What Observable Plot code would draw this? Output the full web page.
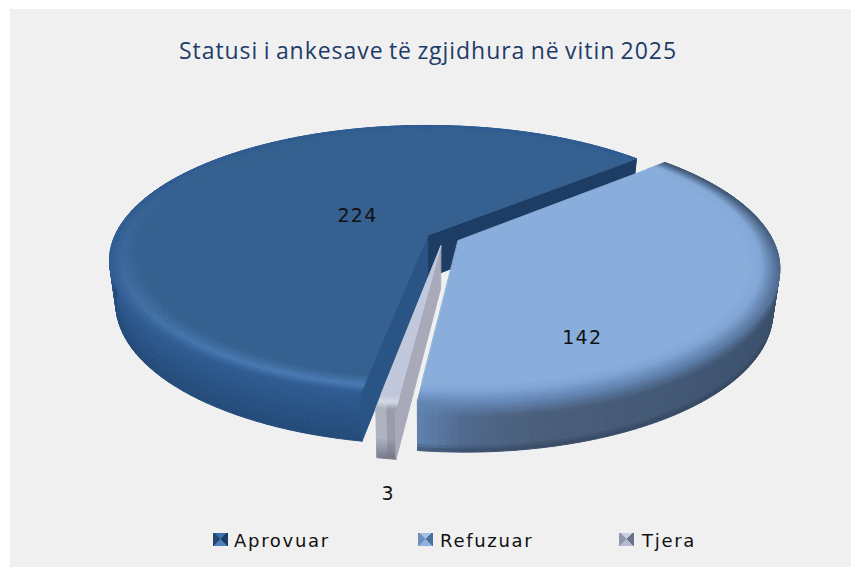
<!DOCTYPE html>
<html lang="sq">
<head>
<meta charset="utf-8">
<script src="https://cdn.jsdelivr.net/npm/d3@7"></script>
<script src="https://cdn.jsdelivr.net/npm/@observablehq/plot@0.6"></script>
<style>
html,body{margin:0;padding:0;background:#fff;width:851px;height:567px;overflow:hidden}
#panel{position:absolute;left:10px;top:9px;width:841px;height:558px;background:#f0f0f0}
#title{position:absolute;left:0;width:836px;top:25px;text-align:center;font:23px "Open Sans",sans-serif;letter-spacing:.95px;word-spacing:-1.5px;color:#1f3c68;white-space:nowrap}
#chart{position:absolute;left:0;top:71px}
#chart svg{background:transparent;display:block}
#chart svg text{letter-spacing:1.2px}
#chart g[aria-label="line"]{filter:blur(.6px)}
.lg{position:absolute;top:521px;font:18px "DejaVu Sans",sans-serif;letter-spacing:1.7px;color:#111;white-space:nowrap}
.sw{position:absolute;top:524px;width:15px;height:13px;filter:blur(.5px)}
</style>
</head>
<body>
<div id="panel">
  <div id="title">Statusi i ankesave të zgjidhura në vitin 2025</div>
  <div id="chart"></div>
</div>
<script>
const categories = ["Aprovuar", "Refuzuar", "Tjera"];
const values = [224, 142, 3];

// pie view: start angle (degrees clockwise from north), perspective and thickness
const startAngle = 190.07, k = 0.185, thick = 0.325;
// pixel size of one projected unit and where the pie's origin falls inside the svg
const R = 312.5, B = 130.4, ox = 417, oy = 155, W = 841, H = 440;

const pie = d3.pie().sort(null).startAngle(startAngle * Math.PI / 180).endAngle((startAngle + 360) * Math.PI / 180)(values);
const explode = [[0, 0], [0.098, 0.038], [0.042, 0.08]];
const labelPlace = [[304, 0.278], [152.6, 0.727], [185.6, 1.375]];

function proj(u, v, t = 0) {
  const s = 1 / (1 - k * v), c = 1 - 0.02 * t;
  return [u * s * c, v * s * c + t * thick * s];
}
function pt(i, deg, r, t = 0) {
  const a = deg * Math.PI / 180;
  return proj(explode[i][0] + r * Math.sin(a), explode[i][1] - r * Math.cos(a), t);
}
const mix = (a, b, p) => d3.interpolateRgb(a, b)(Math.max(0, Math.min(1, p)));
const front = a => (1 - Math.cos(a * Math.PI / 180)) / 2;

const flat = ["#35608f", "#8aaedc", "#c1c8dc"];
const r0 = [0.91, 0.90, 0.93];
const refWall = d3.scaleLinear().domain([48, 90, 130, 170, 180, 187.2])
  .range(["#2b3d58", "#364a66", "#3d5370", "#4a5f7c", "#4f688c", "#5f82ae"]).interpolate(d3.interpolateRgb);

function wall(i, a, t) {
  if (i === 0) return mix("#2f5c93", "#244a78", t);
  if (i === 1) {
    const base = refWall(a % 360);
    if (t < 0.3) return mix(mix("#3e5573", "#6486b4", front(a) * 1.6 - 0.6), base, t / 0.3);
    return mix(base, "#2c3a52", t > 0.85 ? (t - 0.85) * 4 : 0);
  }
  const e = (a - pie[2].startAngle * 180 / Math.PI) / 3;
  return mix(mix("#8d90a0", "#bcc0cc", e), "#6c6e7e", t > 0.6 ? (t - 0.6) * 2 : 0);
}
function rim(i, a, p) {
  const f = front(a);
  if (i === 0) {
    const crest = mix(flat[0], "#4879b2", f * f * 1.1);
    return p < 0.6 ? mix(flat[0], crest, p / 0.6) : mix(crest, wall(0, a, 0), (p - 0.6) / 0.4);
  }
  if (i === 1) {
    const crest = mix(flat[1], "#7ea3d4", f);
    return p < 0.45 ? mix(flat[1], crest, p / 0.45) : mix(crest, wall(1, a, 0), (p - 0.45) / 0.55);
  }
  return p < 0.5 ? mix(flat[2], "#d4d8e4", p / 0.5) : mix("#d4d8e4", wall(2, a, 0), (p - 0.5) / 0.5);
}

const cells = [];
let id = 0;
function cell(c, pts) { const z = id++; for (const [x, y] of pts) cells.push({z, x, y, c}); }

function drawSlice(i) {
  const a0 = pie[i].startAngle * 180 / Math.PI, a1 = pie[i].endAngle * 180 / Math.PI;
  const n = Math.max(2, Math.ceil((a1 - a0) / (i === 1 ? 1 : 2)));
  const ang = j => a0 + (a1 - a0) * j / n;
  // outer wall
  const wn = 16, rn = 16;
  for (let j = 0; j < n; j++) for (let q = 0; q < wn; q++) {
    const A = ang(j), C = ang(j + 1), t = q / wn, T = (q + 1) / wn;
    cell(wall(i, (A + C) / 2, (t + T) / 2), [pt(i, A, 1, t), pt(i, C, 1, t), pt(i, C, 1, T), pt(i, A, 1, T)]);
  }
  // cut walls
  const wallBetween = (deg, c) => cell(c, [pt(i, deg, 0, 0), pt(i, deg, 1, 0), pt(i, deg, 1, 1), pt(i, deg, 0, 1)]);
  if (i === 0) { wallBetween(a1, "#1e3d64"); wallBetween(a0, "#2a5485"); }
  if (i === 2) wallBetween(a0, "#a8aab9");
  // rounded rim
  for (let j = 0; j < n; j++) for (let q = 0; q < rn; q++) {
    const A = ang(j), C = ang(j + 1);
    const r = x => r0[i] + (1 - r0[i]) * x;
    cell(rim(i, (A + C) / 2, (q + 0.5) / rn), [pt(i, A, r(q / rn)), pt(i, C, r(q / rn)), pt(i, C, r((q + 1) / rn)), pt(i, A, r((q + 1) / rn))]);
  }
  // flat top
  const top = [pt(i, 0, 0)];
  for (let j = 0; j <= n; j++) top.push(pt(i, ang(j), r0[i]));
  cell(flat[i], top);
}
[0, 2, 1].forEach(drawSlice);

const labels = values.map((v, i) => {
  const [x, y] = pt(i, labelPlace[i][0], labelPlace[i][1]);
  return {x, y, v};
});

const plot = Plot.plot({
  width: W, height: H, margin: 0,
  x: {domain: [-ox / R, (W - ox) / R], range: [0, W], axis: null},
  y: {domain: [-oy / B, (H - oy) / B], range: [0, H], axis: null},
  color: {type: "identity"},
  marks: [
    Plot.line(cells, {x: "x", y: "y", z: "z", fill: "c", stroke: "c", strokeWidth: 1, curve: "linear-closed"}),
    Plot.text(labels, {x: "x", y: "y", text: "v", fontSize: 19, fontFamily: "DejaVu Sans", fill: "#111"})
  ]
});
document.getElementById("chart").append(plot);

// legend
const panel = document.getElementById("panel");
const swatches = [
  ["#24466f", "#3a6ea8", "#1d3a60", "#4c7eb8"],
  ["#6f90bd", "#a3c2e8", "#4f6f9a", "#8eb2e0"],
  ["#8f97ab", "#c8cee0", "#6c7388", "#b4bbd0"]
];
const swatchX = [203, 408, 609], textX = [224, 430, 632];
categories.forEach((name, i) => {
  const s = document.createElement("div");
  s.className = "sw";
  s.style.left = swatchX[i] + "px";
  const [l, t, r, b] = swatches[i];
  s.style.background = `conic-gradient(from -45deg, ${t} 0 25%, ${r} 25% 50%, ${b} 50% 75%, ${l} 75%)`;
  const n = document.createElement("div");
  n.className = "lg";
  n.style.left = textX[i] + "px";
  n.textContent = name;
  panel.append(s, n);
});
</script>
</body>
</html>
